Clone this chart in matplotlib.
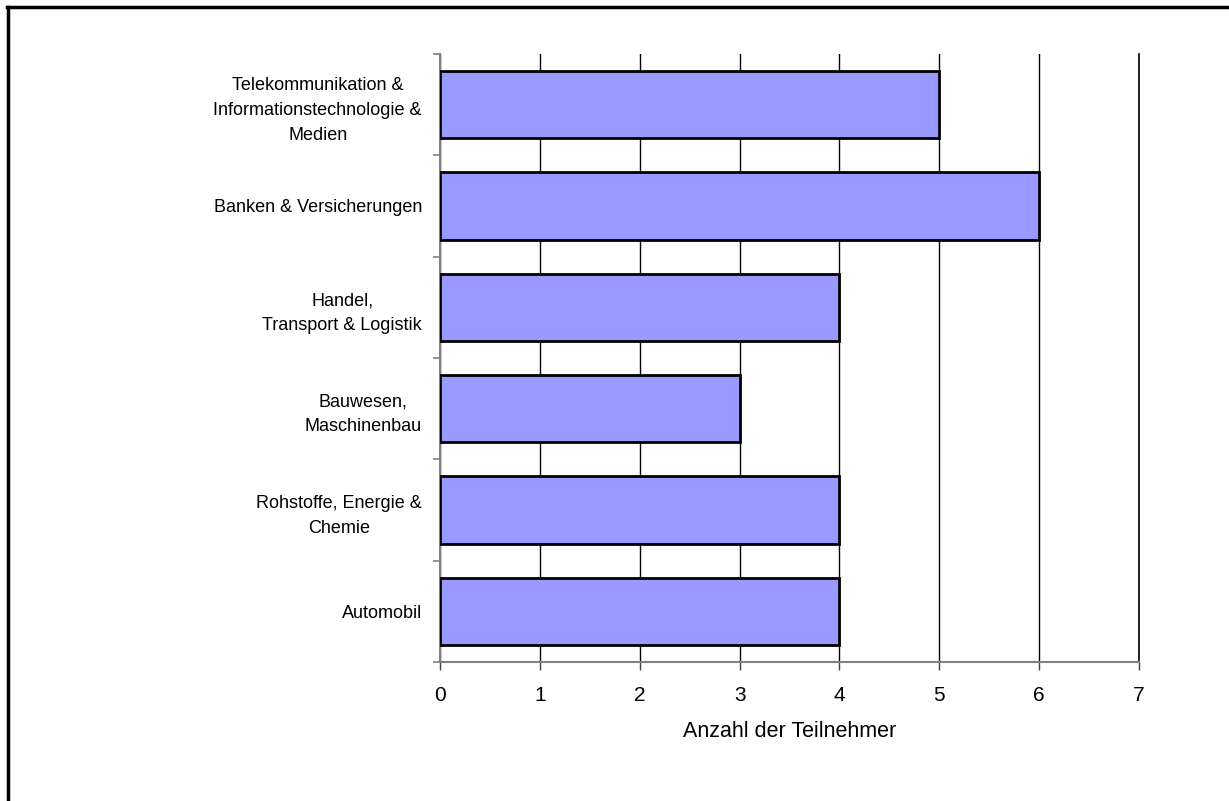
import matplotlib
matplotlib.use("Agg")
import matplotlib.pyplot as plt
from matplotlib.lines import Line2D

plt.rcParams['font.family'] = ['Liberation Sans', 'DejaVu Sans']

categories = ["Telekommunikation &\nInformationstechnologie &\nMedien",
              "Banken & Versicherungen",
              "Handel,\nTransport & Logistik",
              "Bauwesen,\nMaschinenbau",
              "Rohstoffe, Energie &\nChemie",
              "Automobil"]
values = [5, 6, 4, 3, 4, 4]
xticks = [0, 1, 2, 3, 4, 5, 6, 7]

W, H = 1229, 801
fig = plt.figure(figsize=(W / 100, H / 100), dpi=100)
ax = fig.add_axes([440 / W, 1 - 662 / H, (1139 - 440) / W, (662 - 54) / H])

pos = list(range(len(categories)))[::-1]
ax.barh(pos, values, height=0.667, color='#9999FF', edgecolor='black',
        linewidth=2, zorder=3)

ax.set_xlim(0, 7)
ax.set_ylim(-0.5, len(categories) - 0.5)
ax.set_xticks(xticks)
ax.set_xticklabels([str(t) for t in xticks], fontsize=15)
ax.set_yticks(pos)
ax.set_yticklabels(categories, fontsize=13, multialignment='center',
                   linespacing=1.6)
ax.tick_params(axis='y', length=0, pad=13)
ax.set_yticks([p + 0.5 for p in pos] + [-0.5], minor=True)
ax.tick_params(axis='y', which='minor', length=5, color='#808080', width=1.2)
ax.tick_params(axis='x', length=6, color='#404040', width=1, pad=11)

ax.grid(axis='x', color='black', linewidth=1, zorder=0)
ax.axvline(7, color='black', linewidth=1.2, zorder=0, clip_on=False)
for s in ['top', 'right']:
    ax.spines[s].set_visible(False)
for s in ['left', 'bottom']:
    ax.spines[s].set_color('#808080')
    ax.spines[s].set_linewidth(1.5)

ax.set_xlabel('Anzahl der Teilnehmer', fontsize=15.5, labelpad=12)

# chart area border (only top and left inside the picture)
fig.add_artist(Line2D([7 / W, 1.0], [1 - 7 / H, 1 - 7 / H], color='black', linewidth=2.5))
fig.add_artist(Line2D([8 / W, 8 / W], [0, 1 - 7 / H], color='black', linewidth=2.5))

fig.savefig('out.png', dpi=100)
